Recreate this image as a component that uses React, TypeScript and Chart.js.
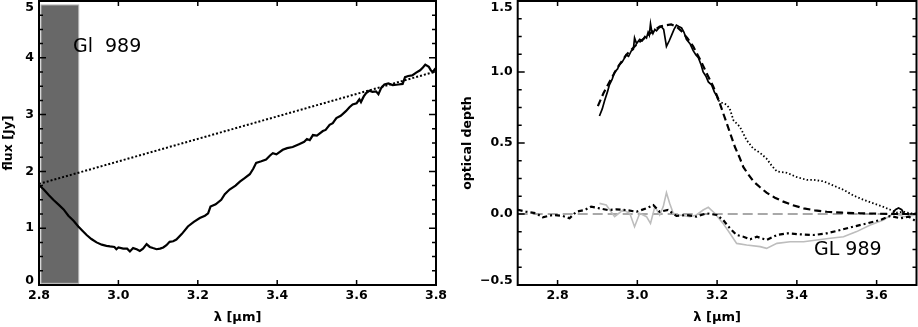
import React, { useEffect, useRef } from "react";
import { Chart, registerables } from "chart.js";
Chart.register(...registerables);

const FONT = '"DejaVu Sans", sans-serif';

// ---------- Left panel: flux spectrum ----------
const fluxWave = [2.800, 2.812, 2.825, 2.836, 2.850, 2.862, 2.874, 2.887, 2.899, 2.910, 2.920, 2.932, 2.945, 2.958, 2.970, 2.979, 2.990, 2.995, 3.000, 3.012, 3.022, 3.029, 3.037, 3.046, 3.054, 3.062, 3.071, 3.079, 3.087, 3.096, 3.105, 3.113, 3.121, 3.129, 3.138, 3.146, 3.160, 3.175, 3.190, 3.205, 3.218, 3.226, 3.232, 3.245, 3.259, 3.268, 3.280, 3.295, 3.306, 3.318, 3.331, 3.340, 3.347, 3.360, 3.372, 3.382, 3.389, 3.398, 3.414, 3.425, 3.439, 3.455, 3.468, 3.475, 3.482, 3.490, 3.500, 3.515, 3.522, 3.532, 3.540, 3.549, 3.560, 3.573, 3.582, 3.590, 3.600, 3.607, 3.611, 3.618, 3.624, 3.632, 3.640, 3.649, 3.655, 3.662, 3.670, 3.680, 3.691, 3.705, 3.716, 3.722, 3.730, 3.740, 3.750, 3.760, 3.767, 3.773, 3.782, 3.787, 3.792, 3.797, 3.800];
const fluxJy = [1.76, 1.68, 1.58, 1.50, 1.41, 1.33, 1.22, 1.13, 1.03, 0.95, 0.88, 0.81, 0.75, 0.71, 0.69, 0.68, 0.67, 0.63, 0.66, 0.64, 0.64, 0.59, 0.65, 0.63, 0.60, 0.64, 0.72, 0.67, 0.65, 0.63, 0.64, 0.66, 0.70, 0.76, 0.77, 0.80, 0.90, 1.03, 1.11, 1.18, 1.22, 1.26, 1.38, 1.42, 1.50, 1.60, 1.68, 1.75, 1.82, 1.88, 1.95, 2.05, 2.15, 2.18, 2.21, 2.28, 2.32, 2.30, 2.38, 2.41, 2.43, 2.48, 2.52, 2.57, 2.55, 2.64, 2.63, 2.71, 2.73, 2.82, 2.85, 2.94, 2.98, 3.06, 3.13, 3.18, 3.20, 3.27, 3.22, 3.32, 3.38, 3.42, 3.40, 3.41, 3.36, 3.47, 3.53, 3.55, 3.52, 3.53, 3.54, 3.66, 3.68, 3.69, 3.74, 3.78, 3.83, 3.88, 3.84, 3.78, 3.75, 3.80, 3.82];
const contWave = [2.8, 3.8];
const contJy = [1.78, 3.76];
const bandWave = [2.805, 2.9];
const bandJy = [0.03, 4.93];
const leftXTicks = [2.8, 3.0, 3.2, 3.4, 3.6, 3.8];
const leftYTicks = [0, 1, 2, 3, 4, 5];
const leftLabel = { wave: 2.8855, value: 4.11, text: "Gl  989" };

// ---------- Right panel: optical depth ----------
const tauWave = [2.905, 2.912, 2.918, 2.925, 2.930, 2.937, 2.943, 2.950, 2.955, 2.962, 2.968, 2.972, 2.978, 2.985, 2.990, 2.993, 2.998, 3.006, 3.012, 3.019, 3.023, 3.027, 3.030, 3.033, 3.036, 3.039, 3.044, 3.048, 3.054, 3.060, 3.066, 3.073, 3.080, 3.086, 3.092, 3.098, 3.104, 3.111, 3.117, 3.123, 3.132, 3.140, 3.147, 3.153, 3.160, 3.165, 3.172, 3.178, 3.186, 3.193, 3.199, 3.203, 3.400, 3.640, 3.647, 3.655, 3.663, 3.668];
const tauObs = [0.69, 0.74, 0.80, 0.86, 0.91, 0.95, 1.00, 1.02, 1.05, 1.07, 1.10, 1.12, 1.11, 1.15, 1.16, 1.24, 1.20, 1.23, 1.22, 1.25, 1.24, 1.28, 1.26, 1.34, 1.29, 1.27, 1.30, 1.29, 1.31, 1.32, 1.30, 1.18, 1.22, 1.26, 1.30, 1.33, 1.32, 1.31, 1.28, 1.23, 1.20, 1.15, 1.12, 1.10, 1.05, 1.00, 0.97, 0.93, 0.91, 0.86, 0.83, 0.80, null, 0.0, 0.03, 0.042, 0.03, 0.0];
const modelWave = [2.901, 2.915, 2.93, 2.95, 2.972, 3.0, 3.023, 3.04, 3.056, 3.073, 3.085, 3.098, 3.11, 3.125, 3.140, 3.157, 3.174, 3.19, 3.203, 3.214, 3.224, 3.235, 3.245, 3.256, 3.266, 3.278, 3.291, 3.307, 3.324, 3.345, 3.366, 3.39, 3.417, 3.445, 3.475, 3.515, 3.559, 3.6, 3.643, 3.7];
const modelTau = [0.76, 0.85, 0.93, 1.03, 1.12, 1.20, 1.25, 1.29, 1.32, 1.33, 1.335, 1.32, 1.29, 1.24, 1.18, 1.09, 0.99, 0.90, 0.81, 0.72, 0.64, 0.55, 0.47, 0.40, 0.33, 0.28, 0.23, 0.19, 0.15, 0.115, 0.087, 0.062, 0.040, 0.026, 0.016, 0.009, 0.005, 0.002, 0, 0];
const excessWave = [3.203, 3.214, 3.224, 3.232, 3.241, 3.257, 3.274, 3.291, 3.308, 3.324, 3.337, 3.350, 3.375, 3.400, 3.425, 3.442, 3.467, 3.492, 3.517, 3.542, 3.567, 3.592, 3.617, 3.634, 3.651, 3.668, 3.685, 3.700];
const excessTau = [0.80, 0.78, 0.77, 0.74, 0.66, 0.615, 0.52, 0.46, 0.43, 0.39, 0.34, 0.30, 0.29, 0.26, 0.24, 0.24, 0.23, 0.20, 0.17, 0.13, 0.10, 0.075, 0.05, 0.03, 0.01, 0.016, 0.005, 0.005];
const residWave = [2.700, 2.721, 2.746, 2.763, 2.788, 2.813, 2.830, 2.847, 2.868, 2.884, 2.905, 2.926, 2.947, 2.972, 2.998, 3.023, 3.040, 3.056, 3.077, 3.098, 3.123, 3.148, 3.173, 3.199, 3.215, 3.232, 3.249, 3.266, 3.283, 3.300, 3.324, 3.350, 3.375, 3.409, 3.442, 3.475, 3.509, 3.542, 3.576, 3.609, 3.634, 3.660, 3.681, 3.700];
const residTau = [0.03, 0.016, 0.005, -0.023, -0.007, -0.014, -0.03, 0.016, 0.028, 0.052, 0.04, 0.028, 0.033, 0.028, 0.016, 0.04, 0.063, 0.016, 0.028, -0.014, -0.007, -0.019, 0.005, -0.007, -0.042, -0.10, -0.148, -0.16, -0.178, -0.16, -0.183, -0.148, -0.136, -0.143, -0.148, -0.136, -0.113, -0.089, -0.066, -0.042, -0.014, -0.03, -0.019, -0.054];
const resid2Wave = [2.905, 2.922, 2.943, 2.964, 2.981, 2.993, 3.006, 3.023, 3.033, 3.044, 3.056, 3.065, 3.073, 3.081, 3.090, 3.106, 3.132, 3.148, 3.165, 3.178, 3.194, 3.215, 3.232, 3.249, 3.274, 3.308, 3.324, 3.350, 3.383, 3.417, 3.450, 3.484, 3.517, 3.550, 3.584, 3.617, 3.643, 3.668, 3.700];
const resid2Tau = [0.075, 0.063, -0.019, 0.028, 0.005, -0.09, 0.005, -0.019, -0.066, 0.052, -0.007, 0.052, 0.15, 0.075, 0.005, -0.007, -0.019, -0.007, 0.028, 0.047, 0.005, -0.066, -0.136, -0.207, -0.218, -0.23, -0.242, -0.207, -0.195, -0.195, -0.183, -0.171, -0.16, -0.124, -0.077, -0.042, 0.005, -0.019, -0.007];
const zeroWave = [2.7, 3.7];
const zeroTau = [0, 0];
const rightXTicks = [2.8, 3.0, 3.2, 3.4, 3.6];
const rightYTicks = [-0.5, 0.0, 0.5, 1.0, 1.5];
const rightLabel = { wave: 3.443, value: -0.289, text: "GL 989" };

const pts = (xs: number[], ys: (number | null)[]) => xs.map((x, i) => ({ x, y: ys[i] }));

function minorList(min: number, max: number, step: number) {
  const out: number[] = [];
  for (let k = 0; min + k * step <= max + 1e-9; k++) out.push(min + k * step);
  return out;
}

type Deco = {
  yTicks: number[];
  yMinor: number[];
  yFmt: (v: number) => string;
  band?: { x: number[]; y: number[] };
  label: { wave: number; value: number; text: string };
};

function decoPlugin(d: Deco) {
  return {
    id: "deco",
    beforeDatasetsDraw(chart: any) {
      if (!d.band) return;
      const { ctx } = chart;
      const { x, y } = chart.scales;
      const x0 = x.getPixelForValue(d.band.x[0]);
      const x1 = x.getPixelForValue(d.band.x[1]);
      const y0 = y.getPixelForValue(d.band.y[0]);
      const y1 = y.getPixelForValue(d.band.y[1]);
      ctx.save();
      ctx.fillStyle = "#686868";
      ctx.fillRect(x0, y1, x1 - x0, y0 - y1);
      ctx.strokeStyle = "#b4b4b4";
      ctx.lineWidth = 1;
      ctx.strokeRect(x0, y1, x1 - x0, y0 - y1);
      ctx.restore();
    },
    afterDatasetsDraw(chart: any) {
      const { ctx, chartArea: a } = chart;
      const { x, y } = chart.scales;
      ctx.save();
      ctx.fillStyle = "#000";
      ctx.font = `19px ${FONT}`;
      ctx.textAlign = "left";
      ctx.textBaseline = "alphabetic";
      ctx.fillText(d.label.text, x.getPixelForValue(d.label.wave), y.getPixelForValue(d.label.value));

      ctx.strokeStyle = "#000";
      ctx.lineWidth = 2;
      ctx.strokeRect(a.left, a.top, a.right - a.left, a.bottom - a.top);

      ctx.lineWidth = 1.5;
      ctx.beginPath();
      for (const t of x.ticks) {
        const px = x.getPixelForValue(t.value);
        ctx.moveTo(px, a.bottom);
        ctx.lineTo(px, a.bottom - 5);
        ctx.moveTo(px, a.top);
        ctx.lineTo(px, a.top + 5);
      }
      for (const v of d.yTicks) {
        const py = y.getPixelForValue(v);
        ctx.moveTo(a.left, py);
        ctx.lineTo(a.left + 7, py);
        ctx.moveTo(a.right, py);
        ctx.lineTo(a.right - 7, py);
      }
      for (const v of d.yMinor) {
        const py = y.getPixelForValue(v);
        ctx.moveTo(a.left, py);
        ctx.lineTo(a.left + 4, py);
        ctx.moveTo(a.right, py);
        ctx.lineTo(a.right - 4, py);
      }
      ctx.stroke();

      ctx.font = `bold 12.5px ${FONT}`;
      ctx.textAlign = "right";
      ctx.textBaseline = "middle";
      for (const v of d.yTicks) {
        let py = y.getPixelForValue(v);
        py = Math.min(Math.max(py, a.top + 7), a.bottom - 4);
        ctx.fillText(d.yFmt(v), a.left - 5, py);
      }
      ctx.restore();
    },
  };
}

function baseOptions(p: {
  xmin: number; xmax: number; ymin: number; ymax: number; xTicks: number[]; yTicks: number[];
  yWidth: number; padRight: number; yTitle: string;
}) {
  const tickFont = { family: FONT, size: 12.5, weight: "bold" as const };
  return {
    animation: false as const,
    responsive: false,
    maintainAspectRatio: false,
    devicePixelRatio: 1,
    layout: { padding: { left: 0, right: p.padRight, top: 1, bottom: 0 } },
    plugins: { legend: { display: false }, tooltip: { enabled: false } },
    elements: { point: { radius: 0 }, line: { tension: 0 } },
    scales: {
      x: {
        type: "linear" as const,
        min: p.xmin,
        max: p.xmax,
        grid: { display: false, drawTicks: false },
        border: { display: false },
        ticks: {
          autoSkip: false,
          maxRotation: 0,
          padding: 3,
          color: "#000",
          font: tickFont,
          callback: (v: any) => Number(v).toFixed(1),
        },
        afterBuildTicks: (s: any) => {
          s.ticks = p.xTicks.map((v) => ({ value: v }));
        },
        afterFit: (s: any) => {
          s.height = 42;
          s.paddingLeft = 0;
          s.paddingRight = 0;
        },
        title: {
          display: true,
          text: "λ [μm]",
          color: "#000",
          font: { family: FONT, size: 13, weight: "bold" as const },
          padding: { top: 0, bottom: 2 },
        },
      },
      y: {
        type: "linear" as const,
        min: p.ymin,
        max: p.ymax,
        grid: { display: false, drawTicks: false },
        border: { display: false },
        ticks: { display: false },
        afterBuildTicks: (s: any) => {
          s.ticks = p.yTicks.map((v) => ({ value: v }));
        },
        afterFit: (s: any) => {
          s.width = p.yWidth;
          s.paddingTop = 0;
          s.paddingBottom = 0;
        },
        title: {
          display: true,
          text: p.yTitle,
          color: "#000",
          font: { family: FONT, size: 12.5, weight: "bold" as const },
          padding: { top: 1, bottom: 0 },
        },
      },
    },
  };
}

function leftConfig(): any {
  return {
    type: "line",
    data: {
      datasets: [
        { data: pts(fluxWave, fluxJy), borderColor: "#000", borderWidth: 2.2, pointRadius: 0 },
        { data: pts(contWave, contJy), borderColor: "#000", borderWidth: 2, borderDash: [2, 2], pointRadius: 0 },
      ],
    },
    options: baseOptions({
      xmin: 2.8, xmax: 3.8, ymin: 0, ymax: 5, xTicks: leftXTicks, yTicks: leftYTicks,
      yWidth: 39, padRight: 23, yTitle: "flux [Jy]",
    }),
    plugins: [
      decoPlugin({
        yTicks: leftYTicks,
        yMinor: minorList(0, 5, 0.25),
        yFmt: (v) => String(v),
        band: { x: bandWave, y: bandJy },
        label: leftLabel,
      }),
    ],
  };
}

function rightConfig(): any {
  return {
    type: "line",
    data: {
      datasets: [
        { data: pts(tauWave, tauObs), borderColor: "#000", borderWidth: 1.7, pointRadius: 0, spanGaps: false },
        { data: pts(modelWave, modelTau), borderColor: "#000", borderWidth: 2.2, borderDash: [7, 4], pointRadius: 0 },
        { data: pts(excessWave, excessTau), borderColor: "#000", borderWidth: 1.8, borderDash: [1.5, 2.2], pointRadius: 0 },
        { data: pts(residWave, residTau), borderColor: "#000", borderWidth: 2.2, borderDash: [5, 3, 2, 3], pointRadius: 0 },
        { data: pts(resid2Wave, resid2Tau), borderColor: "#bdbdbd", borderWidth: 1.6, pointRadius: 0 },
        { data: pts(zeroWave, zeroTau), borderColor: "#555555", borderWidth: 1.2, borderDash: [10, 5], pointRadius: 0 },
      ],
    },
    options: baseOptions({
      xmin: 2.7, xmax: 3.7, ymin: -0.5, ymax: 1.5, xTicks: rightXTicks, yTicks: rightYTicks,
      yWidth: 58.7, padRight: 1.5, yTitle: "optical depth",
    }),
    plugins: [
      decoPlugin({
        yTicks: rightYTicks,
        yMinor: minorList(-0.5, 1.5, 0.125),
        yFmt: (v) => (v < 0 ? "\u2212" + Math.abs(v).toFixed(1) : v.toFixed(1)),
        label: rightLabel,
      }),
    ],
  };
}

function Panel({ make, left }: { make: () => any; left: number }) {
  const ref = useRef<HTMLCanvasElement>(null);
  useEffect(() => {
    const chart = new Chart(ref.current as HTMLCanvasElement, make());
    return () => chart.destroy();
  }, []);
  return (
    <canvas
      ref={ref}
      width={459}
      height={327}
      style={{ position: "absolute", left, top: 0, width: 459, height: 327, display: "block" }}
    />
  );
}

export default function App() {
  return (
    <div style={{ position: "absolute", left: 0, top: 0, width: 918, height: 327, background: "#fff", overflow: "hidden" }}>
      <Panel make={leftConfig} left={0} />
      <Panel make={rightConfig} left={459} />
    </div>
  );
}
